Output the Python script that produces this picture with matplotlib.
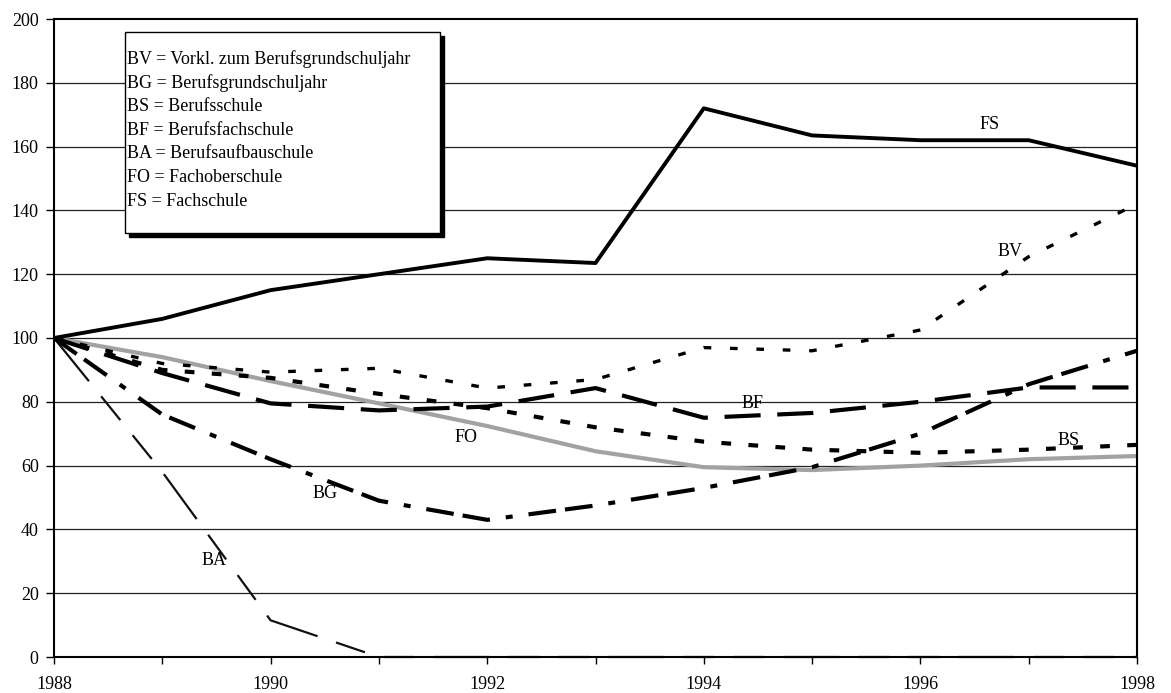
import matplotlib
matplotlib.use("Agg")
import matplotlib.pyplot as plt
from matplotlib.patches import Rectangle

plt.rcParams['font.family'] = ['Liberation Serif', 'DejaVu Serif']
plt.rcParams['lines.scale_dashes'] = False

years = [1988, 1989, 1990, 1991, 1992, 1993, 1994, 1995, 1996, 1997, 1998]
FS = [100, 106, 115, 120, 125, 123.5, 172, 163.5, 162, 162, 154]
BV = [100, 92, 89.3, 90.5, 84.3, 87, 97, 96, 102.5, 125.5, 142]
BS = [100, 90, 87.5, 82.5, 78, 72, 67.5, 65, 64, 65, 66.5]
BF = [100, 89, 79.5, 77.3, 78.5, 84.3, 75, 76.5, 80, 84.5, 84.5]
BG = [100, 76, 62, 49, 43, 47.5, 53, 59.5, 70, 85.5, 96]
FO = [100, 94, 86.5, 79.5, 72.4, 64.5, 59.5, 58.6, 60, 62, 63]
BA = [100, 58, 11.5, 0, 0, 0, 0, 0, 0, 0, 0]

yticks = [0, 20, 40, 60, 80, 100, 120, 140, 160, 180, 200]
xtick_labels = ['1988', '', '1990', '', '1992', '', '1994', '', '1996', '', '1998']

legend_lines = [
    "BV = Vorkl. zum Berufsgrundschuljahr",
    "BG = Berufsgrundschuljahr",
    "BS = Berufsschule",
    "BF = Berufsfachschule",
    "BA = Berufsaufbauschule",
    "FO = Fachoberschule",
    "FS = Fachschule",
]

series_labels = [
    ("FS", 1996.64, 166.8),
    ("BV", 1996.83, 127.0),
    ("BF", 1994.45, 79.6),
    ("FO", 1991.80, 68.7),
    ("BG", 1990.50, 51.4),
    ("BA", 1989.48, 30.4),
    ("BS", 1997.37, 68.0),
]

W, H = 1171, 693
FSZ = 13
fig = plt.figure(figsize=(W / 100, H / 100), dpi=100)
ax = fig.add_axes([54 / W, 1 - 657 / H, (1137 - 54) / W, (657 - 19) / H])

ax.set_xlim(1988, 1998)
ax.set_ylim(0, 200)

for v in yticks[1:-1]:
    ax.axhline(v, color='#222222', lw=0.9, zorder=1)

ax.plot(years, BA, color='#111111', lw=1.6, linestyle=(0, (40, 14, 22, 14, 22, 14)),
        zorder=3, clip_on=False)
ax.plot(years, FO, color='#a2a2a2', lw=3.0, zorder=3)
ax.plot(years, BG, color='black', lw=3.0, linestyle=(0, (20, 6.5, 20, 11.5, 5, 11.5)), zorder=4)
ax.plot(years, BS, color='black', lw=3.0, linestyle=(0, (7, 12.5)), zorder=4)
ax.plot(years, BV, color='black', lw=2.4, linestyle=(0, (5.5, 13.5)), zorder=4)
ax.plot(years, BF, color='black', lw=3.0, linestyle=(0, (26, 12)), zorder=4)
ax.plot(years, FS, color='black', lw=2.8, zorder=5)

for name, x, y in series_labels:
    ax.text(x, y, name, ha='center', va='center', fontsize=FSZ, color='black', zorder=6)

ax.set_yticks(yticks)
ax.set_xticks(years)
ax.set_xticklabels(xtick_labels)
ax.tick_params(axis='x', direction='out', length=5, width=1, pad=9, labelsize=FSZ)
ax.tick_params(axis='y', direction='out', length=6, width=1, pad=5, labelsize=FSZ)
for s in ax.spines.values():
    s.set_linewidth(1.5)
    s.set_color('black')
    s.set_zorder(6)

# legend box with shadow
x0, x1 = 125 / W, 440 / W
yt, yb = 1 - 32 / H, 1 - 233 / H
sh = Rectangle((x0 + 4 / W, yb - 4 / H), x1 - x0, yt - yb, transform=fig.transFigure,
               facecolor='black', edgecolor='black', zorder=7)
box = Rectangle((x0, yb), x1 - x0, yt - yb, transform=fig.transFigure,
                facecolor='white', edgecolor='black', lw=1.0, zorder=8)
fig.patches.extend([sh, box])
for i, line in enumerate(legend_lines):
    fig.text(127 / W, 1 - (59 + i * 23.7) / H, line, ha='left', va='center',
             fontsize=FSZ, zorder=9)

fig.savefig("out.png", dpi=100)
